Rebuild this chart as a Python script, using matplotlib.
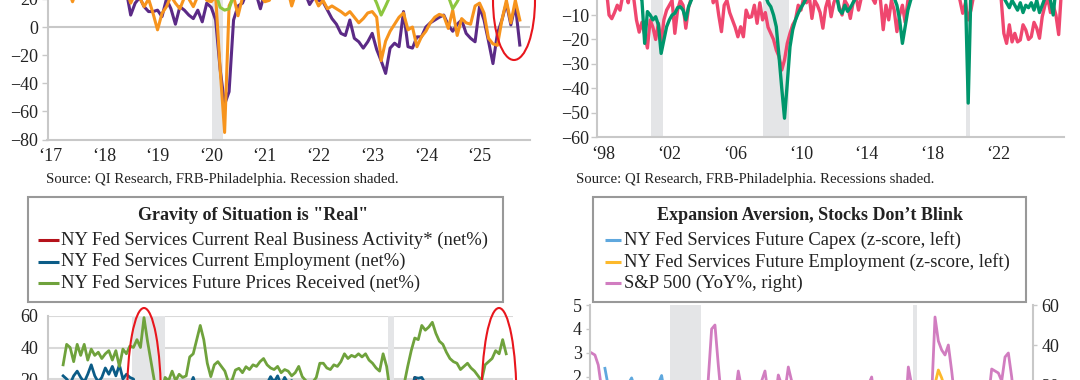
import numpy as np
import matplotlib
matplotlib.use('Agg')
import matplotlib.pyplot as plt
from matplotlib.patches import Ellipse, Rectangle

# ---- top-left: monthly, Jan 2017 - Oct 2025 ----
a_purple = [
    30, 28, 32, 27, 30, 33, 29, 31, 28, 30, 32, 29,
    31, 28, 30, 27, 29, 26, 8.5, 17, 21, 14.5, 11, 11,
    12, 7.4, 20, 13, 2, 14.5, 12, 8.5, 6, 12, 3.7, 17,
    14, 5, -30, -55, -46, 5, 15, 17, 25, 22, 24, 13,
    25, 28, 30, 35, 32, 30, 28, 27, 25, 24, 16, 21,
    19, 18, 12, 6, 2, -4.5, -6, 5, -8, -10.5, -15, -10.5,
    -4.5, -16, -24, -33, -15, -11.5, -14, 11, -14, -15, -7, -7,
    0, 3, 5, 7, 8.5, 1.5, -3, 2, 5, -4.5, -8, -10.5,
    14.5, 5, -10, -26, -4.5, 5, 17, 1.5, 15.6, -12.8,
]
a_orange = [
    28, 30, 26, 29, 27, 18, 27, 30, 28, 26, 29, 31,
    27, 30, 28, 26, 29, 27, 17, 24, 21, 14.5, 20, 9.7,
    -2, 9.7, 14.5, 22, 17, 13, 21, 20, 14.5, 22, 25, 19,
    18, 22, -30, -75, 15, 22, 8, 21, 25, 28, 24, 22,
    18, 19, 26, 32, 30, 28, 15, 25, 28, 30, 26, 22,
    15, 19, 13, 15, 13, 11, 8.5, 11, 7, 3, 6, 10,
    11, 7, -24, -10, -3, 2, 7, 10, -2, 0, -14, -7,
    -3, 3, 7, 9, 8, -1, 12, -6, 6, 3, 2, 15,
    17, 10, -8, -12, -13, 5, 19, 3, 19, 5,
]
a_green = [
    35, 38, 36, 40, 37, 39, 41, 38, 36, 39, 40, 37,
    38, 36, 39, 35, 37, 40, 36, 34, 37, 35, 33, 30,
    28, 30, 32, 29, 27, 31, 30, 28, 29, 27, 30, 28,
    26, 24, 14, 12, 13, 22, 28, 30, 32, 35, 38, 40,
    45, 50, 55, 60, 62, 58, 55, 52, 50, 48, 45, 42,
    45, 48, 50, 47, 44, 40, 38, 35, 33, 30, 28, 26,
    24, 17, 8.5, 15, 22, 25, 27, 26, 28, 27, 25, 26,
    27, 25, 28, 26, 24, 22, 13, 18, 24, 26, 28, 30,
    32, 35, 30, 28, 31, 33, 30, 32, 34, 31,
]
a_years = list(range(2017, 2026))
a_recession = (2020.02, 2020.22)

# ---- top-right: every other month, Jul 1997 - Nov 2025 ----
b_pink = [
    2, -1, 3,
    -2, 1, -10, -11.5, -9, -6,
    -8, -2, 1, -5, 2, -3,
    -12, -17, -13, -18, -23.5, -12,
    -15, -20, -13.4, -21.6, -12, -8,
    -6, -4, -17.5, -8, -4, -6,
    -15.4, -7, -3, 1, -2, 2,
    0, 2, -1, 3, -5, -2,
    -10, -16.8, -6, -4, -9, -12,
    -15, -18.9, -14.8, -18.9, -8, -11,
    -10.7, -6, -13.4, -5, -12, -9,
    -15, -17.5, -20, -24.3, -27, -32.5,
    -28.4, -21.6, -17.5, -14, -12, -6,
    -8, -3, -5, -2, -11.4, -4,
    -6, -9, -15.4, -7, -3, -10.7,
    -5, -2, -7, -10, -4, -6,
    -11.4, -5, -2, -8, -3, 0,
    -2, 1, -3, -5.2, 0, -4,
    -16, -6, -12, -4, -8, -16.8,
    -10, -6, -13, -4, -2, 0,
    2, 3, 0, 1, 2, 3,
    3, 1, 0, -1, 2, -3,
    -2, 1, -3, 0, -4, -9.3,
    -5, -12, -8, -2, 1, 3,
    3, 5, 4, 6, 3, 2,
    0, -3, -17.5, -21.6, -14, -21,
    -17.5, -21, -20.2, -14, -16.1, -20,
    -18.9, -13, -15.4, -19.5, -10.7, -6,
    -3, -9, -6, -10, -18, 0,
]
b_green = [
    -5.5, 0, 2,
    3, 4, 2, 5, 3, 1,
    2, 4, 3, 5, 4, 2,
    0, -2, -4, -21.6, -8.6, -10,
    -12, -10.7, -14, -25.7, -20.2, -14.8,
    -12, -10, -9.3, -7, -6.6, -8,
    -12, -6.6, -4, -1, 1, 3,
    4, 5, 6, 4, 5, 6,
    5, 4, 6, 5, 3, 4,
    5, 6, 4, 3, 5, 4,
    3, 2, 4, 1, 0, -2,
    -5, -6.6, -10, -14.8, -27, -40,
    -52.2, -38, -23, -16, -12, -9.3,
    -7, -5.2, -3, 0, 2, 1,
    2, 3, 1, 0, -1, 2,
    0, -2, -8, -9.3, -6, -8.5,
    -7, -5, -3, 0, 2, 1,
    2, 3, 2, 4, 3, 1,
    0, 1, -2, 0, -3, -6,
    -12, -21.6, -14.8, -8, -4, -1,
    2, 3, 4, 5, 4, 3,
    4, 5, 3, 4, 2, 0,
    1, 0, 2, -1, 0, -2,
    -2, -46, 0, 3, 5, 6,
    5, 6, 4, 5, 3, 2,
    2, 0, -3, -5, -7, -4,
    -6, -8, -5, -9, -6, -7,
    -5, -8, -4, -9, -6, -3,
    -1, -4, -10, 1, 3, 2,
]
b_years = [1998, 2002, 2006, 2010, 2014, 2018, 2022]
b_recessions = [(2000.87, 2001.6), (2007.68, 2009.28), (2020.04, 2020.28)]

# ---- bottom-left: every other month, Sep 2004 - Sep 2025 ----
c_activity = [
    15, 12,
    14, 10, 15, 12, 9, 13,
    11, 14, 9, 12, 10, 8,
    10, 7, 12, 9, 6, 5,
    2, -5, -10, -15, -20, -30,
    -35, -30, -22, -15, -10, -8,
    -5, 0, 3, 1, 4, 6,
    8, 10, 5, 2, -2, 3,
    5, 6, 2, 0, 3, 4,
    5, 3, 6, 4, 7, 6,
    8, 5, 9, 10, 7, 8,
    6, 8, 5, 7, 4, 3,
    2, 4, 1, 3, 6, 8,
    9, 7, 10, 8, 11, 9,
    12, 10, 13, 11, 9, 10,
    8, 6, 7, 5, 8, 6,
    3, -40, -60, -20, -10, -8,
    -2, 10, 21, 15, 12, 10,
    5, 8, 3, -2, -5, -10,
    -8, -12, -6, -10, -4, -8,
    -6, -3, -5, -8, -2, 0,
    -10, -20, -15, -18, -22,
]
c_employment = [
    22, 20,
    17, 22, 25, 21, 18, 23,
    29, 22, 18, 21, 27, 23,
    28, 22, 29, 20, 23, 21,
    20, 12, 5, 0, -5, -15,
    -20, -25, -18, -12, -8, -5,
    0, 5, 8, 12, 15, 21,
    14, 18, 12, 10, 8, 11,
    13, 12, 10, 9, 11, 8,
    10, 12, 9, 11, 13, 12,
    15, 14, 17, 21.5, 18, 22,
    16, 21, 17, 19, 15, 14,
    12, 10, 11, 9, 12, 14,
    15, 13, 16, 14, 12, 15,
    17, 15, 16, 18, 14, 16,
    13, 11, 14, 10, 12, 11,
    10, -20, -40, -10, 0, 3,
    5, 12, 21, 20.5, 21, 17,
    15, 18, 16, 14, 12, 9,
    8, 6, 7, 5, 4, 6,
    3, 5, 4, 2, 6, 3,
    4, 1, -2, 3, 2,
]
c_prices = [
    29, 42,
    40, 31, 42, 35, 42, 32,
    39, 35, 37, 33, 36, 38,
    32, 38, 28, 39, 36, 41,
    40, 45, 40, 59, 44, 31,
    18, 10, 12, 21, 19, 25,
    19, 23, 21, 22, 34, 36,
    45, 54, 45, 30, 21.5, 29,
    31, 28, 25, 18, 19, 25.7,
    26.8, 24, 27.8, 26, 29, 28,
    31, 33, 29, 27, 26, 28,
    24, 26, 25, 22, 24, 28,
    21.5, 19, 17, 18, 21, 30,
    30, 27, 26, 29, 28, 31,
    36, 33, 35, 34, 36, 34,
    36, 32, 30, 27, 25, 36,
    28, 12, 5, 10, 14, 17,
    28, 38, 46, 45, 54, 51,
    53, 56, 49, 44, 42, 37,
    33, 31, 30, 26, 28, 30,
    27, 25, 22, 19, 29, 31,
    33, 38, 36, 45, 36,
]
c_recessions = [(2007.92, 2009.5), (2020.08, 2020.33)]

# ---- bottom-right ----
# S&P 500 YoY, every other month from Jan 2004
d_spx = [
    36, 35, 30, 18, 10, 8,
    5, 7, 6, 10, 9, 6,
    8, 10, 12, 4, 8, 12,
    11, 9, 18, 16, 14, 6,
    -5, -8, -7, -15, -25, -40,
    -42, -45, -35, -20, -5, 23,
    48, 50, 30, 12, 10, 10,
    20, 14, 27, 18, 0, 5,
    3, 7, 0, 22, 27, 15,
    14, 12, 25, 20, 17, 29,
    22, 20, 17, 22, 17, 15,
    12, 10, 8, 6, -1, 2,
    -8, -6, 0, 3, 12, 8,
    18, 16, 15, 14, 16, 20,
    24, 12, 12, 13, 16, 2,
    -5, 5, 3, 5, 4, 29,
    20, -10, 2, 12, 15, 15,
    15, 54, 42, 37.5, 35, 40,
    27, 12, -5, -12, -20, -15,
    -8, -10, 2, 15, 20, 13,
    28, 27, 26, 22, 34, 36,
    24, 8, 10, 15, 18,
]
# z-scores, every other month from Sep 2004
d_capex = [
    2.35, 1.6,
    1.2, 1.5, 1.3, 1.6, 1.4, 1.7,
    1.95, 1.5, 1.4, 1.2, 1.5, 1.3,
    1.4, 1.6, 1.7, 2.05, 1.2, 0.8,
    0.4, 0.0, -0.5, -0.8, -1.2, -1.8,
    -2.0, -1.6, -1.0, -0.5, 0.0, 0.3,
    0.5, 0.6, 0.8, 0.4, 0.6, 0.9,
    1.0, 1.2, 0.8, 0.3, -0.2, 0.2,
    0.4, 0.6, 0.3, 0.1, 0.2, 0.4,
    0.3, 0.5, 0.4, 0.6, 0.5, 0.7,
    0.8, 0.9, 1.0, 0.9, 1.1, 1.0,
    0.9, 0.7, 0.6, 0.5, 0.4, 0.3,
    0.2, 0.3, 0.4, 0.3, 0.5, 0.8,
    1.0, 1.1, 1.0, 0.9, 1.2, 1.3,
    1.4, 1.3, 1.2, 1.1, 1.0, 0.8,
    0.6, 0.7, 0.5, 0.4, 0.3, 0.5,
    0.4, -2.0, -2.5, -1.0, -0.3, 0.2,
    0.8, 1.3, 1.6, 1.5, 1.2, 1.0,
    0.9, 0.7, 0.4, 0.0, -0.3, -0.5,
    -0.6, -0.8, -0.5, -0.7, -0.4, -0.6,
    -0.5, -0.3, -0.6, -0.4, -0.2, 0.0,
    -0.4, -1.0, -1.3, -0.9, -0.8,
]
d_emp = [
    1.2, 1.0,
    0.9, 1.1, 1.0, 0.8, 1.0, 1.2,
    1.1, 1.0, 0.9, 0.8, 0.9, 0.7,
    0.8, 0.7, 0.9, 0.8, 0.5, 0.3,
    0.0, -0.4, -0.8, -1.0, -1.5, -2.0,
    -2.2, -1.8, -1.2, -0.8, -0.4, -0.1,
    0.2, 0.3, 0.5, 0.4, 0.6, 0.7,
    0.8, 1.0, 0.7, 0.4, 0.1, 0.3,
    0.4, 0.5, 0.3, 0.2, 0.3, 0.4,
    0.3, 0.5, 0.4, 0.5, 0.6, 0.7,
    0.8, 0.9, 0.8, 1.0, 0.9, 1.0,
    0.9, 0.8, 0.7, 0.6, 0.5, 0.4,
    0.3, 0.4, 0.5, 0.4, 0.6, 0.8,
    0.9, 1.0, 1.1, 1.0, 1.2, 1.1,
    1.2, 1.1, 1.0, 1.1, 0.9, 0.7,
    0.6, 0.5, 0.6, 0.4, 0.5, 0.4,
    0.3, -1.5, -2.0, -0.8, 0.0, 0.4,
    1.0, 1.7, 2.28, 1.95, 1.5, 1.3,
    1.2, 1.0, 0.8, 0.5, 0.2, 0.0,
    -0.2, -0.4, -0.3, -0.5, -0.3, -0.4,
    -0.3, -0.2, -0.4, -0.3, -0.1, 0.1,
    -0.2, -0.6, -0.9, -0.7, -0.6,
]
d_recessions = [(2007.92, 2009.47), (2020.08, 2020.29)]

c_labels = ['NY Fed Services Current Real Business Activity* (net%)',
            'NY Fed Services Current Employment (net%)',
            'NY Fed Services Future Prices Received (net%)']
d_labels = ['NY Fed Services Future Capex (z-score, left)',
            'NY Fed Services Future Employment (z-score, left)',
            'S&P 500 (YoY%, right)']

W, H = 1080, 380
GRAY = '#c8c8c8'
SHADE = '#e4e5e7'
RED = '#e8161d'
TICK_FS = 13

plt.rcParams['font.family'] = ['Liberation Serif', 'DejaVu Serif']
plt.rcParams['text.color'] = '#222222'
plt.rcParams['xtick.color'] = GRAY
plt.rcParams['ytick.color'] = GRAY
plt.rcParams['xtick.labelcolor'] = '#222222'
plt.rcParams['ytick.labelcolor'] = '#222222'

fig = plt.figure(figsize=(W / 100, H / 100), dpi=100)


def px_axes(x0, y0, x1, y1):
    # pixel box (top-left origin) -> figure fraction
    return fig.add_axes([x0 / W, 1 - y1 / H, (x1 - x0) / W, (y1 - y0) / H])


def plain(ax, left=True, bottom=True, right=False):
    ax.spines['top'].set_visible(False)
    ax.spines['right'].set_visible(right)
    ax.spines['left'].set_visible(left)
    ax.spines['bottom'].set_visible(bottom)
    for s in ax.spines.values():
        s.set_color(GRAY)
        s.set_linewidth(1.5)


# top-left
ax = px_axes(47.5, -29.2, 530, 139.5)
plain(ax)
a_x = 2017 + np.arange(len(a_purple)) / 12
ax.axvspan(*a_recession, color=SHADE, lw=0)
ax.axhline(0, color=GRAY, lw=1.5)
ax.plot(a_x, a_purple, color='#5b2a86', lw=2.2)
ax.plot(a_x, a_orange, color='#f7941d', lw=2.2)
ax.plot(a_x, a_green, color='#8dc63f', lw=2.2)
ax.set_xlim(2016.95, 2025.94)
ax.set_ylim(-80, 40)
ax.set_yticks(range(-80, 21, 20))
ax.set_xticks(a_years)
ax.set_xticklabels(['\u2018%02d' % (y % 100) for y in a_years])
ax.tick_params(axis='y', length=4, width=1, pad=3, labelsize=TICK_FS)
ax.tick_params(axis='x', length=0, pad=6, labelsize=TICK_FS)

# top-right
ax = px_axes(597.3, -33.9, 1064, 137.3)
plain(ax)
b_x = 1997.5 + np.arange(len(b_pink)) / 6
for r in b_recessions:
    ax.axvspan(*r, color=SHADE, lw=0)
ax.plot(b_x, b_pink, color='#ef476f', lw=2.4)
ax.plot(b_x, b_green, color='#00966c', lw=2.4)
ax.set_xlim(1997.62, 2025.99)
ax.set_ylim(-60, 10)
ax.set_yticks(range(-60, -9, 10))
ax.set_xticks(b_years)
ax.set_xticklabels(['\u2018%02d' % (y % 100) for y in b_years])
ax.tick_params(axis='y', length=4, width=1, pad=2, labelsize=TICK_FS)
ax.tick_params(axis='x', length=0, pad=6, labelsize=TICK_FS)

# bottom-left
ax = px_axes(48, 316, 513, 473.5)
plain(ax, bottom=False)
c_x = 2004 + 8 / 12 + np.arange(len(c_prices)) / 6
for r in c_recessions:
    ax.axvspan(*r, color=SHADE, lw=0)
ax.grid(axis='y', color='#d9d9d9', lw=1.5)
ax.set_axisbelow(True)
ax.plot(c_x, c_activity, color='#b5121b', lw=2.0)
ax.plot(c_x, c_employment, color='#0b5c87', lw=2.0)
ax.plot(c_x, c_prices, color='#6fa23c', lw=2.0)
ax.set_xlim(2003.95, 2025.99)
ax.set_ylim(-40, 60)
ax.set_yticks([20, 40, 60])
ax.set_xticks([])
ax.tick_params(axis='y', length=0, pad=7, labelsize=TICK_FS)

# bottom-right
ax = px_axes(590, 305, 1033.3, 520.1)
plain(ax, bottom=False)
ax2 = ax.twinx()
plain(ax2, left=False, bottom=False, right=True)
for r in d_recessions:
    ax.axvspan(*r, color=SHADE, lw=0)
d_spx_x = 2004 + np.arange(len(d_spx)) / 6
d_z_x = 2004 + 8 / 12 + np.arange(len(d_capex)) / 6
ax2.plot(d_spx_x, d_spx, color='#d17dc0', lw=2.0, zorder=1)
ax.set_zorder(ax2.get_zorder() + 1)
ax.patch.set_visible(False)
ax.plot(d_z_x, d_capex, color='#5fa8de', lw=2.0)
ax.plot(d_z_x, d_emp, color='#fdb92b', lw=2.0)
ax.set_xlim(2003.92, 2026.08)
ax.set_ylim(-4, 5)
ax2.set_ylim(-47.55, 60)
ax.set_yticks([2, 3, 4, 5])
ax2.set_yticks([20, 40, 60])
ax.set_xticks([])
ax.tick_params(axis='y', length=3, width=1, pad=3, labelsize=TICK_FS)
ax2.tick_params(axis='y', length=3, width=1, pad=3, labelsize=TICK_FS)

# overlay in pixel units: legends, notes, circles
ov = fig.add_axes([0, 0, 1, 1])
ov.set_xlim(0, W)
ov.set_ylim(H, 0)
ov.axis('off')

src = 'Source: QI Research, FRB-Philadelphia. Recession%s shaded.'
ov.text(46.5, 180, src % '', fontsize=10.6, va='center')
ov.text(576, 180, src % 's', fontsize=10.6, va='center')

boxes = [
    (27.5, 503.4, 253, 'Gravity of Situation is "Real"', c_labels,
     ['#b5121b', '#0b5c87', '#6fa23c'], 38, 58.5, 61.3),
    (593.4, 1026.2, 810, 'Expansion Aversion, Stocks Don\u2019t Blink', d_labels,
     ['#5fa8de', '#fdb92b', '#d17dc0'], 605.4, 621, 624.4),
]
for x0, x1, tcx, title, labels, colors, h0, h1, tx in boxes:
    ov.add_patch(Rectangle((x0, 197.3), x1 - x0, 104.4, fill=False,
                           ec='#999999', lw=1.5))
    ov.text(tcx, 215, title, fontsize=13, fontweight='bold',
            ha='center', va='center')
    for i, (lab, col) in enumerate(zip(labels, colors)):
        y = 240 + i * 21.7
        ov.plot([h0, h1], [y, y], color=col, lw=2.2, solid_capstyle='butt')
        ov.text(tx, y, lab, fontsize=13.4, va='center')

for cx, cy, w, h in [(514, 0, 42, 120), (144, 400, 34, 184), (499, 400, 35, 184)]:
    ov.add_patch(Ellipse((cx, cy), w, h, fill=False, ec=RED, lw=1.5))

fig.savefig('out.png', dpi=100)
